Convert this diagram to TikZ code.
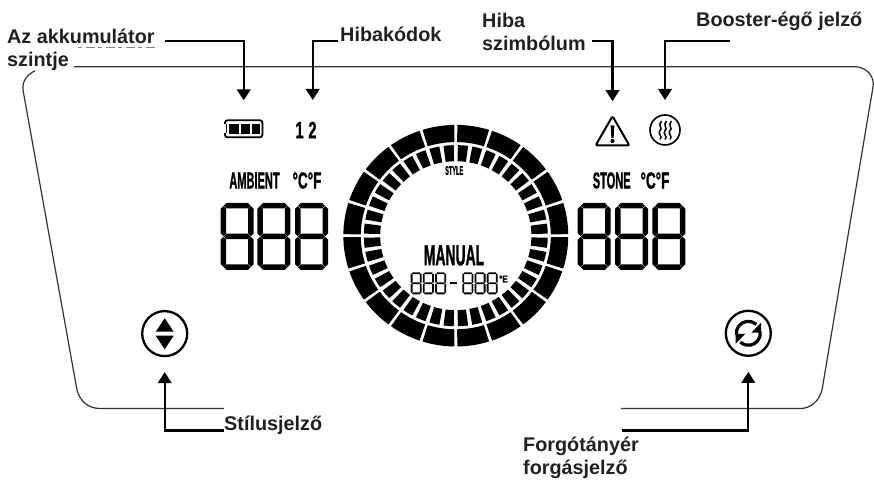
\documentclass[tikz,border=0pt]{standalone}
\usepackage{fontspec}
\setmainfont{Liberation Sans}
\newfontfamily\lcdface[UprightFont=* Bold,FakeBold=1.6]{Liberation Sans}
\usetikzlibrary{shapes.geometric,arrows.meta,positioning}
\definecolor{labelink}{HTML}{231F20}
\newcommand{\lcdtext}[3]{{\fontsize{#2}{#2}\selectfont\lcdface\scalebox{#1}[1]{#3}}}
\tikzset{pics/lcddigit/.style n args={3}{code={
  \def\digw{#1}\def\digh{#2}\def\digt{#3}\def\digg{.3}
  \foreach \c in {#3/2,#2/2,#2-#3/2}
    \fill ({\digt/2+\digg},{\c}) -- ({\digt+\digg},{\c+\digt/2}) -- ({\digw-\digt-\digg},{\c+\digt/2}) -- ({\digw-\digt/2-\digg},{\c}) -- ({\digw-\digt-\digg},{\c-\digt/2}) -- ({\digt+\digg},{\c-\digt/2}) -- cycle;
  \foreach \c in {#3/2,#1-#3/2} \foreach \a in {0,1} {
    \pgfmathsetmacro{\ya}{\a*(\digh-\digt)/2+\digt/2+\digg}
    \pgfmathsetmacro{\yb}{\ya+(\digh-\digt)/2-2*\digg}
    \fill ({\c},{\ya}) -- ({\c+\digt/2},{\ya+\digt/2}) -- ({\c+\digt/2},{\yb-\digt/2}) -- ({\c},{\yb}) -- ({\c-\digt/2},{\yb-\digt/2}) -- ({\c-\digt/2},{\ya+\digt/2}) -- cycle;
  }
}}}
\begin{document}
\begin{tikzpicture}[x=1pt,y=1pt,
  lbl/.style={font=\fontsize{19.8}{23.5}\selectfont\bfseries,text=labelink,inner sep=0pt,align=left},
  lcd/.style={inner sep=0pt,outer sep=0pt},
  leader/.style={line width=2.3pt,-{Triangle[width=13.5pt,length=11pt]}},
  panel/.style={line width=1.2pt,draw=black!80,rounded corners=0pt}]
\useasboundingbox (0,0) rectangle (874,481);
% panel outline
\draw[panel] (35,410.3) .. controls (27,406) and (22,400) .. (23,391) -- (77,91) .. controls (80,80) and (88,72.5) .. (100,72.5) -- (224,72.5);
\draw[panel] (74,414.3) -- (855,414.3) .. controls (866,414) and (875,405) .. (873,394) -- (822,91) .. controls (819,80) and (811,72.5) .. (800,72.5) -- (621,72.5);
\draw[labelink!55,line width=.8pt,dash pattern=on 4pt off 4pt on 9pt off 3pt] (78,434) -- (156,434);
% labels
\node[lbl,anchor=west] (akkulabel) at (7,431) {Az akkumulátor\\szintje};
\node[lbl,anchor=west] (kodlabel) at (340,446.5) {Hibakódok};
\node[lbl,anchor=west] (hibalabel) at (482,449) {Hiba\\szimbólum};
\node[lbl,anchor=west] (boosterlabel) at (696,459.5) {Booster-égő jelző};
\node[lbl,anchor=west] (stiluslabel) at (224,55.5) {Stílusjelző};
\node[lbl,anchor=west] (forgolabel) at (523,23) {Forgótányér\\forgásjelző};
% icons
\node[draw,line width=1.8pt,rounded corners=2.5pt,minimum width=37.5pt,minimum height=17pt,inner sep=0pt] (battery) at (243.7,352.2) {};
\foreach \x/\w in {229/9.7,241/9,252/7.5} \fill (\x,347) rectangle ++(\w,10);
\fill[white] (222,348) rectangle (226,356.5);
\draw[line width=1.5pt] (226.5,347.5) -- (226.5,357);
\node[lcd] (codes) at (306,351) {\lcdtext{.62}{23.5}{1\,\,2}};
\node[draw,regular polygon,regular polygon sides=3,line width=2pt,rounded corners=2pt,minimum size=39pt,inner sep=0pt,outer sep=0pt] (warning) at (612.5,345.3) {};
\fill (610.6,355.7) -- (614.4,355.7) -- (613.6,343) -- (611.4,343) -- cycle;
\fill (612.5,340) circle (2.1);
\node[draw,circle,line width=1.6pt,minimum size=30pt,inner sep=0pt,outer sep=0pt] (heat) at (665,351) {};
\foreach \dx in {-5,0,5}
  \draw[line width=1.5pt] (665+\dx+1.5,360) .. controls (665+\dx-3,356) and (665+\dx+3.5,352) .. (665+\dx,350.5) .. controls (665+\dx-3,347) and (665+\dx+3.5,345) .. (665+\dx,341.5);
\node[draw,circle,line width=2.3pt,minimum size=45pt,inner sep=0pt,outer sep=0pt] (updown) at (164.7,147.4) {};
\fill (155.7,149.3) -- (173.7,149.3) -- (164.7,162.7) -- cycle;
\fill (155.7,145.3) -- (173.7,145.3) -- (164.7,131.7) -- cycle;
\node[draw,circle,line width=2.3pt,minimum size=45pt,inner sep=0pt,outer sep=0pt] (spin) at (748.3,147.7) {};
\foreach \r in {0,180} {
  \begin{scope}[shift={(spin)},rotate=\r]
    \draw[line width=3.2pt] (188:12) arc[start angle=188,end angle=48,radius=12];
    \fill (12.8,10.5) -- (12.8,.6) -- (3,.6) -- cycle;
  \end{scope}
}
% left and right readouts
\node[lcd] (ambient) at (254.5,300.5) {\lcdtext{.48}{23}{AMBIENT}};
\node[lcd] (ambientunit) at (307,300.5) {\lcdtext{.59}{23}{°C°F}};
\foreach \x in {220.7,257.3,295} \pic at (\x,211) {lcddigit={33}{67}{5.5}};
\node[lcd] (stone) at (611.7,300.5) {\lcdtext{.48}{23}{STONE}};
\node[lcd] (stoneunit) at (655,300.5) {\lcdtext{.59}{23}{°C°F}};
\foreach \x in {577.7,615,652.3} \pic at (\x,211) {lcddigit={33}{67}{5.5}};
% dial
\coordinate (dial) at (455.8,245.3);
\foreach \a in {0,18,...,342}
  \fill[shift={(dial)},xscale=1.015] ({\a+.8}:110.8) arc[start angle=\a+.8,end angle=\a+17.2,radius=110.8] -- ({\a+17.2}:93.6) arc[start angle=\a+17.2,end angle=\a+.8,radius=93.6] -- cycle;
\foreach \a in {0,9,...,351}
  \fill[shift={(dial)},xscale=1.015] ({\a+1.3}:90.6) arc[start angle=\a+1.3,end angle=\a+7.7,radius=90.6] -- ({\a+7.7}:74.5) arc[start angle=\a+7.7,end angle=\a+1.3,radius=74.5] -- cycle;
\node[lcd] (style) at (454.2,310.5) {\lcdtext{.45}{12.5}{STYLE}};
\node[lcd] (manual) at (454,225.6) {\lcdtext{.48}{29}{MANUAL}};
\foreach \x in {410.7,422.9,435.1,462.3,474.5,486.7} \pic at (\x,186.7) {lcddigit={11}{22}{1.8}};
\fill (450,196.7) rectangle (457.3,198.7);
\node[lcd] (rangeunit) at (503.5,202) {\lcdtext{.8}{10}{°E}};
% leaders
\coordinate (akkustart) at (165,440);
\coordinate (kodstart) at (338,440);
\coordinate (hibastart) at (592,440);
\coordinate (boosterstart) at (730,440);
\coordinate (stilusstart) at (224,50.5);
\coordinate (forgostart) at (621.7,50.5);
\draw[leader] (akkustart) -| ([yshift=19pt]battery.north);
\draw[leader] (kodstart) -| (312.7,381);
\draw[leader] (hibastart) -| ([yshift=15pt]warning.north);
\draw[leader] (boosterstart) -| ([yshift=15pt]heat.north);
\draw[leader] (stilusstart) -| ([yshift=-16pt]updown.south);
\draw[leader] (forgostart) -| ([yshift=-16pt]spin.south);
\end{tikzpicture}
\end{document}
